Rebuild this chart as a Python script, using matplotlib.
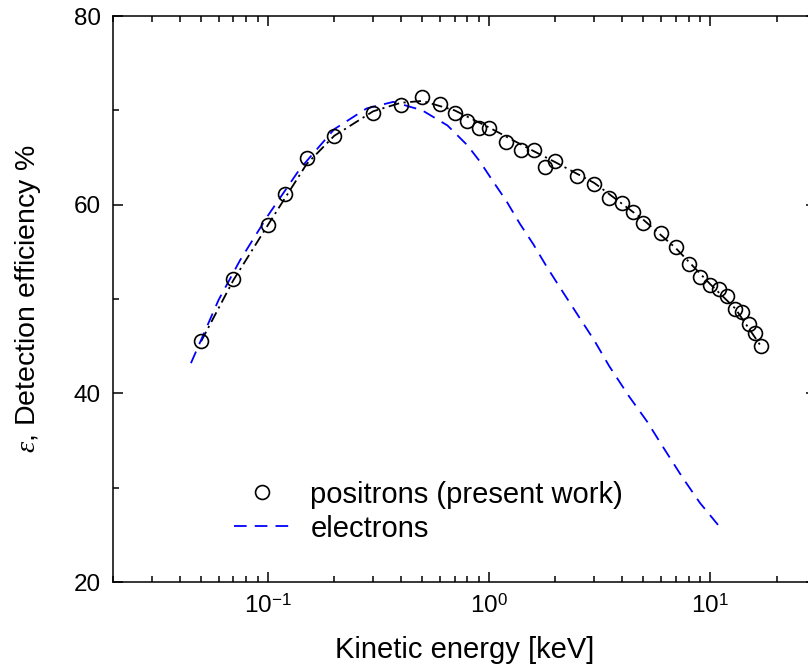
import matplotlib
matplotlib.use("Agg")
import matplotlib.pyplot as plt
from matplotlib.ticker import LogLocator, FixedLocator, NullFormatter, FuncFormatter
import numpy as np

plt.rcParams["font.family"] = ["Liberation Sans", "DejaVu Sans"]
plt.rcParams["mathtext.fontset"] = "custom"
plt.rcParams["mathtext.rm"] = "Liberation Sans"
plt.rcParams["mathtext.it"] = "Liberation Serif:italic"

# positron data (present work)
pos_e = [0.05, 0.07, 0.1, 0.12, 0.15, 0.2, 0.3, 0.4, 0.5, 0.6, 0.7, 0.8, 0.9,
         1.0, 1.2, 1.4, 1.6, 1.8, 2.0, 2.5, 3.0, 3.5, 4.0, 4.5, 5.0, 6.0, 7.0,
         8.0, 9.0, 10.0, 11.0, 12.0, 13.0, 14.0, 15.0, 16.0, 17.0]
pos_eff = [45.6, 52.1, 57.8, 61.1, 65.0, 67.3, 69.7, 70.6, 71.4, 70.7, 69.7,
           68.9, 68.1, 68.1, 66.6, 65.8, 65.8, 64.0, 64.6, 63.0, 62.2, 60.7,
           60.2, 59.2, 58.1, 57.0, 55.5, 53.7, 52.3, 51.5, 51.1, 50.3, 48.9,
           48.6, 47.4, 46.4, 45.0]

# fitted curve through the positron data
fit_e = [0.05, 0.07, 0.1, 0.15, 0.2, 0.3, 0.4, 0.5, 0.7, 1.0, 1.5, 2.0, 3.0,
         5.0, 7.0, 10.0, 13.0, 17.0]
fit_eff = [45.5, 52.0, 57.8, 64.3, 67.3, 69.9, 70.8, 71.0, 70.0, 68.2, 66.0,
           64.5, 62.3, 58.4, 55.4, 51.6, 49.0, 45.0]

# electrons
ele_e = [0.045, 0.06, 0.075, 0.1, 0.14, 0.2, 0.28, 0.37, 0.5, 0.65, 0.8,
         0.91, 1.05, 1.2, 1.38, 1.59, 1.83, 2.1, 2.4, 3.0, 3.5, 4.3, 5.2,
         6.1, 7.5, 9.0, 11.1]
ele_eff = [43.2, 49.9, 54.1, 58.8, 63.8, 68.0, 70.2, 70.9, 70.0, 68.4, 66.3,
           64.6, 62.4, 60.4, 58.0, 55.8, 53.4, 51.2, 49.1, 45.6, 42.9, 39.7,
           37.0, 34.4, 31.1, 28.4, 25.8]

fig = plt.figure(figsize=(8.08, 6.70), dpi=100)
ax = fig.add_axes([0.1399, 0.1313, 0.8694, 0.8448])

ax.plot(fit_e, fit_eff, color="black", lw=1.3, ls=(0, (6, 2.5, 1.2, 2.5)))
ax.plot(ele_e, ele_eff, color="#0000ff", lw=1.3, ls=(0, (7, 4.5)),
        label="electrons")
ax.plot(pos_e, pos_eff, ls="none", marker="o", ms=10, mfc="none",
        mec="black", mew=1.2, label="positrons (present work)")

ax.set_xscale("log")
ax.set_xlim(0.02, 30)
ax.set_ylim(20, 80)
ax.yaxis.set_major_locator(FixedLocator([20, 40, 60, 80]))
ax.yaxis.set_minor_locator(FixedLocator([30, 50, 70]))
ax.xaxis.set_major_locator(LogLocator(base=10, numticks=10))
ax.xaxis.set_minor_locator(LogLocator(base=10, subs=range(2, 10), numticks=20))
ax.xaxis.set_minor_formatter(NullFormatter())
ax.xaxis.set_major_formatter(FuncFormatter(
    lambda v, p: r"10$^{\mathregular{%d}}$" % int(round(np.log10(v)))))

ax.tick_params(which="both", direction="in", top=True, right=True,
               width=1.1, labelsize=17.5)
ax.tick_params(which="major", length=7.5, pad=9)
ax.tick_params(which="minor", length=4)
for s in ax.spines.values():
    s.set_linewidth(1.1)

ax.set_xlabel("Kinetic energy [keV]", fontsize=21, labelpad=13)
ax.set_ylabel(r"$\varepsilon$, Detection efficiency %", fontsize=20.5,
              labelpad=22)

h, l = ax.get_legend_handles_labels()
ax.legend([h[1], h[0]], [l[1], l[0]], loc="upper left",
          bbox_to_anchor=(0.1515, 0.205), frameon=False, fontsize=21,
          handlelength=1.9, handletextpad=0.72, labelspacing=0.21,
          borderpad=0)

fig.savefig("out.png", dpi=100)
